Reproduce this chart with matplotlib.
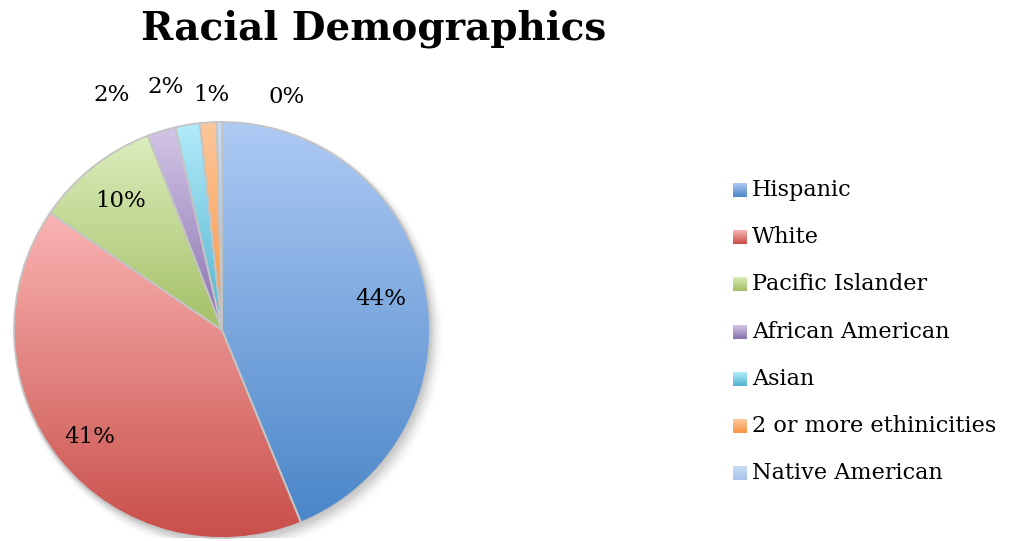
import numpy as np
import matplotlib
matplotlib.use('Agg')
import matplotlib.pyplot as plt
from matplotlib.colors import LinearSegmentedColormap
from matplotlib.patches import Circle

# Racial demographics, share in percent
groups = ['Hispanic', 'White', 'Pacific Islander', 'African American',
          'Asian', '2 or more ethinicities', 'Native American']
shares = [43.8, 40.7, 9.7, 2.2, 1.9, 1.3, 0.4]

# light (top) -> dark (bottom) gradient per slice
top_colors = ['#aecaf4', '#f9b4b3', '#dcedbd', '#d2c6e6', '#b2ebfa', '#fdc79a', '#c9dbf4']
bottom_colors = ['#4a86c8', '#c84d48', '#a3c065', '#8a6fae', '#50b3cf', '#f79646', '#a9c4ea']

# label placement: distance from centre for large slices, fixed spots for small ones
inside_dist = [0.78, 0.82, 0.79]
outside_xy = [(-0.53, 1.13), (-0.27, 1.17), (-0.05, 1.13), (0.31, 1.12)]

serif = ['DejaVu Serif']

fig = plt.figure(figsize=(10.09, 5.41), dpi=100)
W, H = 1009, 541
R = 208.0
cx, cy = 222.0, 330.0
xl, yl = (-1.06, 1.06), (-1.0, 1.3)
ax = fig.add_axes([(cx + xl[0] * R) / W, (H - cy + yl[0] * R) / H,
                   (xl[1] - xl[0]) * R / W, (yl[1] - yl[0]) * R / H])
ax.set_xlim(*xl)
ax.set_ylim(*yl)
ax.set_aspect('equal')
ax.axis('off')

# soft drop shadow
for i, a in enumerate(np.linspace(0.05, 0.012, 6)):
    ax.add_patch(Circle((0.012 + 0.004 * i, -0.018 - 0.004 * i), 1.0 + 0.006 * i,
                        facecolor='#000000', alpha=a, edgecolor='none', zorder=0))
ax.add_patch(Circle((0, 0), 1.0, facecolor='white', edgecolor='none', zorder=0.5))

wedges, _ = ax.pie(shares, startangle=90, counterclock=False, radius=1.0,
                   colors=bottom_colors,
                   wedgeprops=dict(edgecolor='#c4c4c4', linewidth=1.3))

for w, c0, c1 in zip(wedges, top_colors, bottom_colors):
    w.set_facecolor('none')
    verts = w.get_path().vertices
    x0, x1 = verts[:, 0].min(), verts[:, 0].max()
    y0, y1 = verts[:, 1].min(), verts[:, 1].max()
    cmap = LinearSegmentedColormap.from_list('g', [c1, c0])
    grad = np.linspace(0, 1, 256).reshape(-1, 1)
    im = ax.imshow(grad, cmap=cmap, origin='lower', aspect='auto',
                   extent=(x0, x1, y0, y1), zorder=1, interpolation='bilinear')
    im.set_clip_path(w)
    w.set_zorder(2)

ax.set_xlim(*xl)
ax.set_ylim(*yl)

# percentage labels
for i, (w, s) in enumerate(zip(wedges, shares)):
    txt = f'{s:.0f}%'
    if i < len(inside_dist):
        ang = np.deg2rad((w.theta1 + w.theta2) / 2)
        x, y = inside_dist[i] * np.cos(ang), inside_dist[i] * np.sin(ang)
    else:
        x, y = outside_xy[i - len(inside_dist)]
    ax.text(x, y, txt, ha='center', va='center', fontsize=16.5,
            family=serif, color='black', zorder=5)

fig.text(374 / W, 1 - 29 / H, 'Racial Demographics', ha='center', va='center',
         fontsize=28, fontweight='bold', family=serif)

# legend with gradient swatches
lx, ly0, dy = 733 / W, 1 - 190 / H, 47.2 / H
sw, sh = 14 / W, 14 / H
for i, (g, c0, c1) in enumerate(zip(groups, top_colors, bottom_colors)):
    y = ly0 - i * dy
    grad = np.linspace(0, 1, 32).reshape(-1, 1)
    sax = fig.add_axes([lx, y - sh / 2, sw, sh])
    sax.imshow(grad, cmap=LinearSegmentedColormap.from_list('s', [c1, c0]),
               origin='lower', aspect='auto')
    sax.axis('off')
    fig.text(lx + 19 / W, y, g, ha='left', va='center', fontsize=16.1,
             family=serif)

fig.savefig('out.png', dpi=100, facecolor='white')
